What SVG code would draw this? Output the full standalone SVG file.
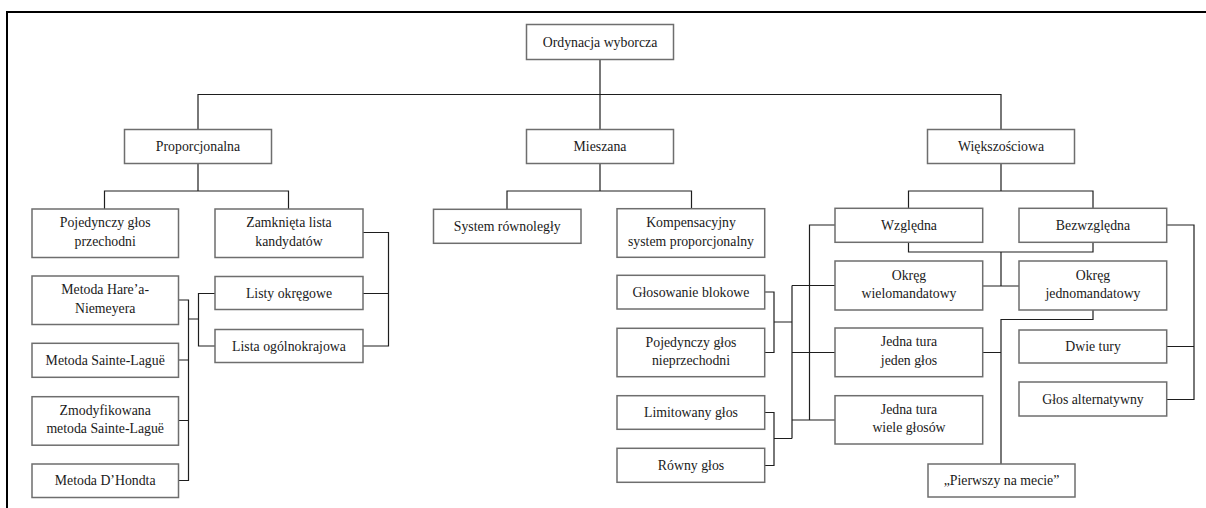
<svg xmlns="http://www.w3.org/2000/svg" width="1206" height="508" viewBox="0 0 1206 508">
<style>
rect.b{fill:#fff;stroke:#6e6e6e;stroke-width:1.5}
text{font-family:"Liberation Serif","Times New Roman",serif;font-size:13.8px;fill:#1a1a1a;text-anchor:middle}
#connectors path{fill:none;stroke:#1e1e1e;stroke-width:1.2}
</style>
<rect x="0" y="0" width="1206" height="508" fill="#fff"/>
<path d="M7,508 V12 H1206" fill="none" stroke="#000" stroke-width="2"/>
<g id="connectors">
<path d="M600,59 V129.5 M198,129.5 V94.5 H1001 V129.5"/>
<path d="M198,163.5 V191 M104.5,209 V191 H288.5 V209"/>
<path d="M600,163.5 V191 M507,209 V191 H691.5 V208.5"/>
<path d="M1001,163.5 V191 M908.5,208.5 V191 H1093 V208.5"/>
<path d="M363,232.5 H388.5 V346 H363 M363,293.5 H388.5"/>
<path d="M178.5,300 H188.5 V480.5 H178.5 M178.5,360 H188.5 M178.5,420.5 H188.5"/>
<path d="M188.5,319 H198.5 M215,293.5 H198.5 V346 H215"/>
<path d="M765,292 H774 V352.5 H765 M774,322 H792"/>
<path d="M765,412.5 H774 V465.5 H765 M774,438.5 H792"/>
<path d="M792,285.5 V438.5 M792,285.5 H835 M792,352.5 H835 M792,420 H835"/>
<path d="M835,225 H809.5 V420"/>
<path d="M908.5,242.5 V252 H1093 V242.5 M1001,252 V286 M983,286 H1019"/>
<path d="M1093,310 V319.5 H1001 V464 M983,352.5 H1001"/>
<path d="M1167,225 H1194 V399.5 H1167 M1167,346.5 H1194"/>
</g>
<g id="n-root"><rect class="b" x="526.5" y="24.5" width="147" height="35"/><text x="600" y="46.7">Ordynacja wyborcza</text></g>
<g id="n-prop"><rect class="b" x="124.5" y="129.5" width="147" height="34"/><text x="198" y="151">Proporcjonalna</text></g>
<g id="n-miesz"><rect class="b" x="526.5" y="129.5" width="147" height="34"/><text x="600" y="151">Mieszana</text></g>
<g id="n-wiek"><rect class="b" x="927.5" y="129.5" width="147" height="34"/><text x="1001" y="151">Większościowa</text></g>

<g id="n-pgp"><rect class="b" x="32" y="209" width="146.5" height="48.5"/><text x="105.2" y="227.3">Pojedynczy głos</text><text x="105.2" y="245.8">przechodni</text></g>
<g id="n-zlk"><rect class="b" x="215" y="209" width="148" height="48.5"/><text x="289" y="227.3">Zamknięta lista</text><text x="289" y="245.8">kandydatów</text></g>
<g id="n-hare"><rect class="b" x="32" y="276" width="146.5" height="48.5"/><text x="105.2" y="294.2">Metoda Hare’a-</text><text x="105.2" y="312.7">Niemeyera</text></g>
<g id="n-sl"><rect class="b" x="32" y="343.3" width="146.5" height="34"/><text x="105.2" y="364.8">Metoda Sainte-Laguë</text></g>
<g id="n-zsl"><rect class="b" x="32" y="396.7" width="146.5" height="48.5"/><text x="105.2" y="414.9">Zmodyfikowana</text><text x="105.2" y="433.4">metoda Sainte-Laguë</text></g>
<g id="n-dh"><rect class="b" x="32" y="464" width="146.5" height="33.5"/><text x="105.2" y="485.3">Metoda D’Hondta</text></g>
<g id="n-lo"><rect class="b" x="215" y="276.5" width="148" height="33"/><text x="289" y="297.5">Listy okręgowe</text></g>
<g id="n-log"><rect class="b" x="215" y="329.5" width="148" height="33"/><text x="289" y="350.5">Lista ogólnokrajowa</text></g>

<g id="n-sr"><rect class="b" x="433.5" y="209.3" width="147.5" height="34"/><text x="507.2" y="230.8">System równoległy</text></g>
<g id="n-ksp"><rect class="b" x="617" y="208.7" width="147.7" height="48.6"/><text x="691" y="227.2">Kompensacyjny</text><text x="691" y="245.7">system proporcjonalny</text></g>
<g id="n-gb"><rect class="b" x="617" y="275.3" width="147.7" height="33.7"/><text x="691" y="296.7">Głosowanie blokowe</text></g>
<g id="n-pgn"><rect class="b" x="617" y="328.3" width="147.7" height="48.4"/><text x="691" y="346.5">Pojedynczy głos</text><text x="691" y="365">nieprzechodni</text></g>
<g id="n-lg"><rect class="b" x="617" y="395.7" width="147.7" height="33.6"/><text x="691" y="417">Limitowany głos</text></g>
<g id="n-rg"><rect class="b" x="617" y="448.3" width="147.7" height="34"/><text x="691" y="469.8">Równy głos</text></g>

<g id="n-wzg"><rect class="b" x="835" y="208.3" width="147.7" height="34"/><text x="909" y="229.8">Względna</text></g>
<g id="n-bzg"><rect class="b" x="1019" y="208.3" width="147.7" height="34"/><text x="1093" y="229.8">Bezwzględna</text></g>
<g id="n-ow"><rect class="b" x="835" y="261" width="147.7" height="49"/><text x="909" y="279.5">Okręg</text><text x="909" y="298">wielomandatowy</text></g>
<g id="n-oj"><rect class="b" x="1019" y="261" width="147.7" height="49"/><text x="1093" y="279.5">Okręg</text><text x="1093" y="298">jednomandatowy</text></g>
<g id="n-jtjg"><rect class="b" x="835" y="328" width="147.7" height="48.7"/><text x="909" y="346.3">Jedna tura</text><text x="909" y="364.8">jeden głos</text></g>
<g id="n-jtwg"><rect class="b" x="835" y="395.7" width="147.7" height="48.3"/><text x="909" y="413.9">Jedna tura</text><text x="909" y="432.4">wiele głosów</text></g>
<g id="n-dt"><rect class="b" x="1019" y="330" width="147.7" height="33"/><text x="1093" y="351">Dwie tury</text></g>
<g id="n-ga"><rect class="b" x="1019" y="382" width="147.7" height="34"/><text x="1093" y="403.5">Głos alternatywny</text></g>
<g id="n-pnm"><rect class="b" x="928" y="464" width="147" height="33"/><text x="1001.5" y="485">„Pierwszy na mecie”</text></g>
</svg>
